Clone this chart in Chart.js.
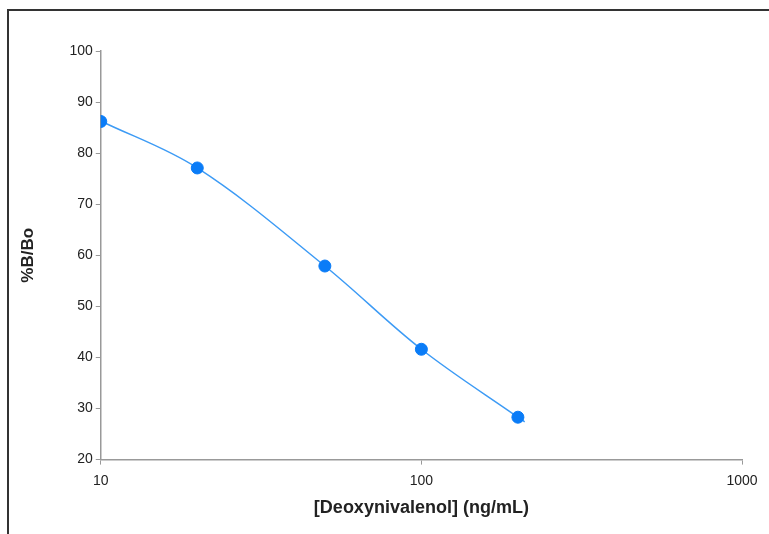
<!DOCTYPE html>
<html>
<head>
<meta charset="utf-8">
<script src="https://cdn.jsdelivr.net/npm/chart.js@4/dist/chart.umd.min.js"></script>
<style>
  html, body { margin: 0; padding: 0; background: #fff; }
  #wrap { position: relative; width: 769px; height: 534px; overflow: hidden; }
  #frame {
    position: absolute; left: 7px; top: 9px; width: 800px; height: 600px;
    border-top: 2px solid #333; border-left: 2px solid #333; pointer-events: none;
  }
</style>
</head>
<body>
<div id="wrap">
  <canvas id="chart" width="769" height="534"></canvas>
  <div id="frame"></div>
</div>
<script>
  // Messpunkte (Standardkurve)
  const concentrations = [10, 20, 50, 100, 200];
  const bBo = [86.2, 77.1, 57.9, 41.6, 28.3];

  // Kurvenverlauf
  const curveX = [10, 20, 50, 100, 200, 210];
  const curveY = [86.3, 77.1, 57.9, 41.6, 28.3, 27.4];

  const xTicks = [10, 100, 1000];
  const yTicks = [20, 30, 40, 50, 60, 70, 80, 90, 100];

  const axisColor = "#999";
  const fam = "'Liberation Sans', Arial, sans-serif";
  const tickFont = { family: fam, size: 14 };

  const ctx = document.getElementById("chart").getContext("2d");
  new Chart(ctx, {
    type: "scatter",
    data: {
      datasets: [
        {
          label: "Fit",
          data: curveX.map((x, i) => ({ x: x, y: curveY[i] })),
          showLine: true,
          borderColor: "#3d9bf5",
          borderWidth: 1.5,
          pointRadius: 0,
          tension: 0.35,
          order: 2
        },
        {
          label: "%B/Bo",
          data: concentrations.map((x, i) => ({ x: x, y: bBo[i] })),
          backgroundColor: "#0a7cf7",
          borderColor: "#0a7cf7",
          pointRadius: 6,
          order: 1
        }
      ]
    },
    options: {
      responsive: false,
      animation: false,
      layout: { padding: { left: 14, right: 27, top: 51, bottom: 11 } },
      plugins: { legend: { display: false }, tooltip: { enabled: false } },
      scales: {
        x: {
          type: "logarithmic",
          min: 10,
          max: 1000,
          afterBuildTicks: axis => { axis.ticks = xTicks.map(v => ({ value: v })); },
          ticks: { color: "#222", font: tickFont, padding: 8, callback: v => String(v), maxRotation: 0 },
          grid: { drawOnChartArea: false, tickLength: 5, color: axisColor },
          border: { color: axisColor, width: 1.5 },
          title: { display: true, text: "[Deoxynivalenol] (ng/mL)", color: "#222", font: { family: fam, size: 18, weight: "bold" }, padding: { top: 0 } }
        },
        y: {
          min: 20,
          max: 100,
          afterBuildTicks: axis => { axis.ticks = yTicks.map(v => ({ value: v })); },
          ticks: { color: "#222", font: tickFont, padding: 3 },
          grid: { drawOnChartArea: false, tickLength: 5, color: axisColor },
          border: { color: axisColor, width: 1.5 },
          title: { display: true, text: "%B/Bo", color: "#222", font: { family: fam, size: 17, weight: "bold" }, padding: { bottom: 28 } }
        }
      }
    }
  });
</script>
</body>
</html>
